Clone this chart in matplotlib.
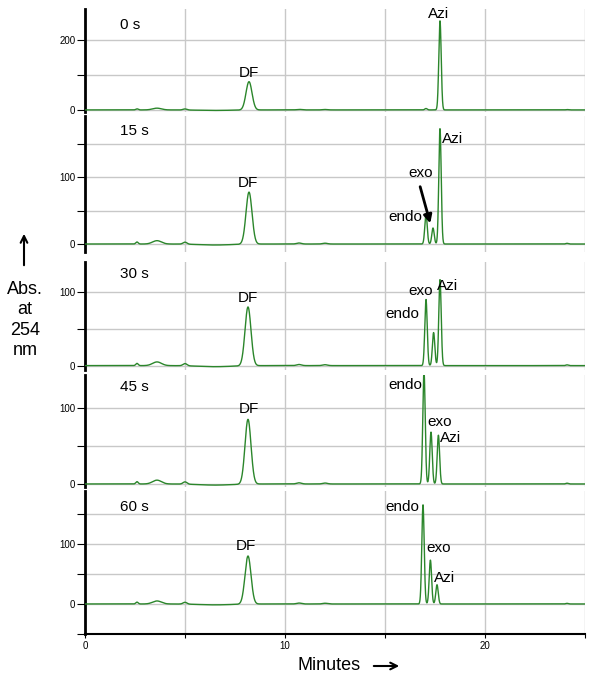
import numpy as np
import matplotlib
matplotlib.use("Agg")
import matplotlib.pyplot as plt

plt.rcParams['font.family'] = ['Liberation Sans', 'DejaVu Sans']

# time points (panel titles)
panel_labels = ['0 s', '15 s', '30 s', '45 s', '60 s']

# peak table: retention time (min) and height (abs units)
df_time = [8.2, 8.2, 8.15, 8.15, 8.15]
df_height = [81, 78, 80, 85, 80]
endo_time = [17.05, 17.05, 17.05, 16.95, 16.9]
endo_height = [4, 45, 90, 148, 165]
exo_time = [17.4, 17.4, 17.43, 17.3, 17.27]
exo_height = [0, 24, 45, 68, 73]
azi_time = [17.75, 17.75, 17.75, 17.67, 17.6]
azi_height = [255, 173, 117, 64, 32]

# small baseline features shared by all runs
base_time = [2.6, 3.6, 5.0, 6.5, 10.7, 12.0, 24.1]
base_height = [3, 5, 3, -1.5, 1.5, 1.2, 1.0]
base_width = [0.06, 0.22, 0.1, 0.8, 0.12, 0.12, 0.06]

df_width = 0.15
fast_width = 0.06

# label positions (min, abs) per panel
df_lab = [(8.2, 107), (8.15, 92), (8.13, 92), (8.18, 98), (8.05, 97)]
endo_lab = [None, (16.0, 40), (15.88, 70), (16.0, 130), (15.88, 161)]
exo_lab = [None, (16.8, 107), (16.8, 101), (17.72, 81), (17.67, 93)]
azi_lab = [(17.68, 274), (18.38, 158), (18.13, 109), (18.3, 60), (17.97, 44)]

ylims = [(-6, 289), (-12, 192), (-6, 141), (-4, 143), (-50, 188)]
# axes top/bottom in pixels from the top of the figure
rows_px = [(9, 112), (116, 252), (262, 370), (375, 487), (491, 634)]

W, H = 602, 680
fig = plt.figure(figsize=(W / 100, H / 100), dpi=100)

t = np.linspace(0, 25.5, 6000)


def gauss(x, mu, h, s):
    return h * np.exp(-0.5 * ((x - mu) / s) ** 2)


green = '#2b862b'
grid_c = '#c8c8c8'

axes = []
for i in range(5):
    top, bot = rows_px[i]
    ax = fig.add_axes([85 / W, 1 - bot / H, 500 / W, (bot - top) / H])
    axes.append(ax)

    y = np.zeros_like(t)
    for bt, bh, bw in zip(base_time, base_height, base_width):
        y += gauss(t, bt, bh, bw)
    y += gauss(t, df_time[i], df_height[i], df_width)
    y += gauss(t, endo_time[i], endo_height[i], fast_width)
    y += gauss(t, exo_time[i], exo_height[i], fast_width)
    y += gauss(t, azi_time[i], azi_height[i], fast_width)
    ax.plot(t, y, color=green, lw=1.0, zorder=3)

    ax.set_xlim(0, 25)
    ax.set_ylim(*ylims[i])

    if i == 0:
        yt = [0, 100, 200]
        ylab = ['0', '', '200']
    else:
        yt = [-50, 0, 50, 100, 150]
        ylab = ['', '0', '', '100', '']
    yt_in = [v for v, l in zip(yt, ylab) if ylims[i][0] <= v <= ylims[i][1]]
    ylab_in = [l for v, l in zip(yt, ylab) if ylims[i][0] <= v <= ylims[i][1]]
    ax.set_yticks(yt_in)
    ax.set_yticklabels(ylab_in)
    ax.set_xticks([0, 5, 10, 15, 20, 25])

    for v in [5, 10, 15, 20, 25]:
        ax.axvline(v, color=grid_c, lw=1.0, zorder=1)
    for v in yt_in:
        ax.axhline(v, color=grid_c, lw=1.0, zorder=1)

    for s in ['top', 'right']:
        ax.spines[s].set_visible(False)
    ax.spines['left'].set_linewidth(2.0)
    ax.spines['left'].set_color('black')
    ax.tick_params(axis='y', direction='out', length=6, width=0.8,
                   labelsize=7, pad=1, colors='black')
    if i < 4:
        ax.spines['bottom'].set_visible(False)
        ax.tick_params(axis='x', bottom=False, labelbottom=False)
    else:
        ax.spines['bottom'].set_linewidth(1.5)
        ax.set_xticklabels(['0', '', '10', '', '20', ''])
        ax.tick_params(axis='x', direction='out', length=3, width=0.8,
                       labelsize=7, pad=2)

    # panel title
    ax.text(0.07, 0.84 if i == 0 else 0.89, panel_labels[i], transform=ax.transAxes,
            fontsize=11, ha='left', va='center')

    ax.text(*df_lab[i], 'DF', fontsize=11, ha='center', va='center')
    ax.text(*azi_lab[i], 'Azi', fontsize=11, ha='center', va='center')
    if endo_lab[i] is not None:
        ax.text(*endo_lab[i], 'endo', fontsize=11, ha='center', va='center')
        ax.text(*exo_lab[i], 'exo', fontsize=11, ha='center', va='center')

# arrow pointing at the exo peak in the 15 s run
axes[1].annotate('', xy=(17.3, 27), xytext=(16.72, 90),
                 arrowprops=dict(arrowstyle='-|>', lw=2, color='black',
                                 mutation_scale=12))

# y-axis label with upward arrow
fig.text(25 / W, 1 - 320 / H, 'Abs.\nat\n254\nnm', fontsize=13,
         ha='center', va='center', linespacing=1.25)
fig.add_artist(matplotlib.patches.FancyArrowPatch(
    (24 / W, 1 - 268 / H), (24 / W, 1 - 231 / H), transform=fig.transFigure,
    arrowstyle='->', mutation_scale=12, lw=1.5, color='black'))

# x-axis label with arrow
fig.text(329 / W, 1 - 665 / H, 'Minutes', fontsize=13, ha='center', va='center')
fig.add_artist(matplotlib.patches.FancyArrowPatch(
    (371 / W, 1 - 666 / H), (402 / W, 1 - 666 / H), transform=fig.transFigure,
    arrowstyle='->', mutation_scale=12, lw=1.5, color='black'))

fig.savefig('out.png', dpi=100)
